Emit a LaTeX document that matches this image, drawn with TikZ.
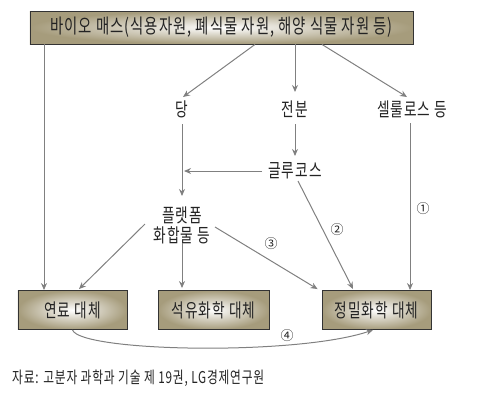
\documentclass[tikz,border=0pt]{standalone}
\usepackage{fontspec}
\setmainfont{Noto Sans CJK KR}
\newfontfamily\tallfont[FakeStretch=0.72,LetterSpace=5]{Noto Sans CJK KR}
\usetikzlibrary{arrows.meta,calc}
\definecolor{khaki}{RGB}{166,156,124}
\definecolor{arrgray}{RGB}{128,128,128}
\definecolor{txt}{RGB}{35,35,35}
\tikzset{
  boxnode/.style={draw=black!80, line width=0.9bp, inner color=white, outer color=khaki,
    minimum height=39bp, text=txt, font=\tallfont\fontsize{19bp}{20bp}\selectfont, inner sep=0pt},
  lbl/.style={text=txt, font=\tallfont\fontsize{19bp}{20bp}\selectfont, inner sep=2bp, align=center},
  numlbl/.style={text=txt, font=\fontsize{13bp}{13bp}\selectfont, inner sep=0pt},
  arr/.style={draw=arrgray, line width=1bp, -{Stealth[length=7bp,width=6bp]}},
}
\begin{document}
\begin{tikzpicture}[x=1bp,y=-1bp]
\useasboundingbox (0,0) rectangle (479,404);
% boxes
\node[boxnode, minimum width=383bp, minimum height=33bp, font=\tallfont\fontsize{20bp}{20bp}\selectfont] (top) at (221.5,27.5) {바이오 매스(식용자원, 폐식물 자원, 해양 식물 자원 등)};
\node[boxnode, minimum width=109bp] (fuel) at (72.5,310) {연료 대체};
\node[boxnode, minimum width=111bp] (petro) at (213.5,310) {석유화학 대체};
\node[boxnode, minimum width=109bp] (prec) at (376.5,310) {정밀화학 대체};
% labels
\node[lbl] (dang) at (182,109) {당};
\node[lbl] (starch) at (295,109) {전분};
\node[lbl] (cell) at (412,109) {셀룰로스 등};
\node[lbl] (glu) at (295,171) {글루코스};
\node[lbl] (plat) at (182,225) {플랫폼\\화합물 등};
% helper coordinate for the left line
\coordinate (Lx) at (44,0);
% connectors
\draw[arr] (top.south -| Lx) -- (fuel.north -| Lx);
\draw[arr] ($(top.south)+(33.5,0)$) -- ($(dang)+(1,-12)$);
\draw[arr] (top.south -| starch) -- ($(starch)+(0,-17)$);
\draw[arr] ($(top.south)+(100.5,0)$) -- ($(cell)+(-5,-12)$);
\draw[arr] ($(dang)+(0,15)$) -- ($(plat)+(0,-29)$);
\draw[arr] ($(starch)+(0,15)$) -- ($(glu)+(0,-15)$);
\draw[arr] ($(glu)+(-33,0)$) -- ($(glu -| dang)+(2,0)$);
\draw[arr] ($(cell)+(-2,14)$) -- ($(prec.north -| cell)+(-2,0)$);
\draw[arr] ($(glu)+(3,10)$) -- ($(prec.north)+(-23.5,-1)$);
\draw[arr] ($(plat)+(33,2)$) -- ($(prec.north west)+(-4,-1)$);
\draw[arr] ($(plat)+(-37,-1)$) -- ($(fuel.north)+(6.5,-1)$);
\draw[arr] ($(plat)+(0,18)$) -- ($(petro.north -| plat)+(0,-2)$);
\draw[arr] (fuel.south) .. controls ($(fuel.south)+(8,22)$) and ($(prec.south)+(-80,26)$) .. ($(prec.south)+(-3.5,0)$);
% numbers
\node[numlbl] (n1) at (423,209) {①};
\node[numlbl] (n2) at (337,230) {②};
\node[numlbl] (n3) at (271,244) {③};
\node[numlbl] (n4) at (287,336) {④};
% caption
\node[anchor=west, text=txt, font=\tallfont\fontsize{16.3bp}{16bp}\selectfont, inner sep=0pt] (cap) at (12,378) {자료: 고분자 과학과 기술 제 19권, LG경제연구원};
\end{tikzpicture}
\end{document}
